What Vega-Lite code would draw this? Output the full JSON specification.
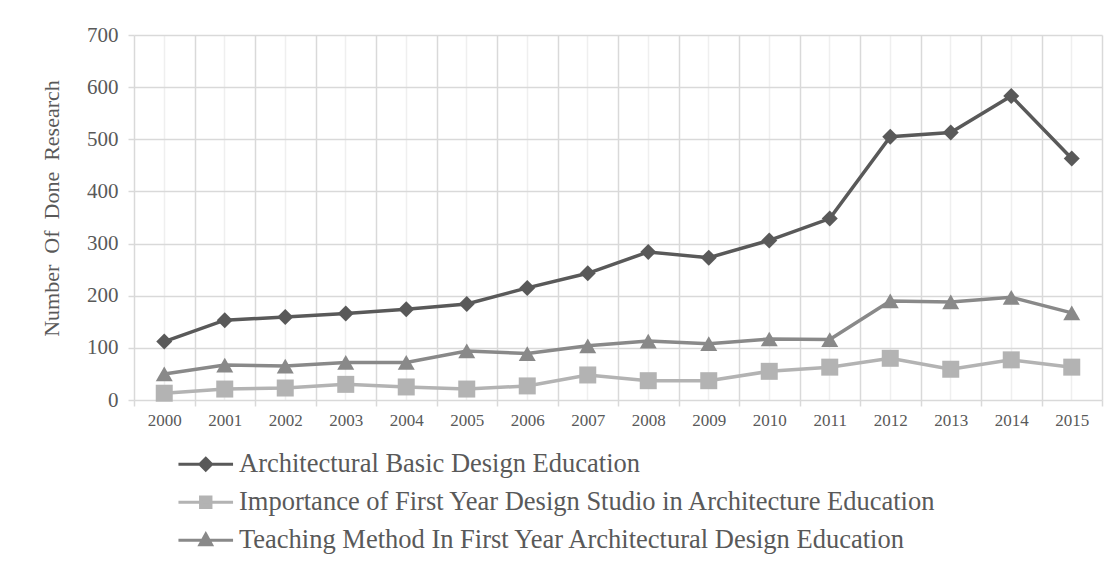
{
  "$schema": "https://vega.github.io/schema/vega-lite/v6.json",
  "width": 968,
  "height": 365,
  "autosize": {"type": "none"},
  "padding": {"left": 134, "top": 35, "right": 10, "bottom": 163},
  "background": "#ffffff",
  "config": {
    "view": {"stroke": null},
    "font": "Liberation Serif"
  },
  "data": {
    "values": [
      {"year": "2000", "series": "Architectural Basic Design Education", "value": 112},
      {"year": "2001", "series": "Architectural Basic Design Education", "value": 153},
      {"year": "2002", "series": "Architectural Basic Design Education", "value": 159},
      {"year": "2003", "series": "Architectural Basic Design Education", "value": 166},
      {"year": "2004", "series": "Architectural Basic Design Education", "value": 174},
      {"year": "2005", "series": "Architectural Basic Design Education", "value": 184},
      {"year": "2006", "series": "Architectural Basic Design Education", "value": 215},
      {"year": "2007", "series": "Architectural Basic Design Education", "value": 243},
      {"year": "2008", "series": "Architectural Basic Design Education", "value": 284},
      {"year": "2009", "series": "Architectural Basic Design Education", "value": 273},
      {"year": "2010", "series": "Architectural Basic Design Education", "value": 306},
      {"year": "2011", "series": "Architectural Basic Design Education", "value": 348},
      {"year": "2012", "series": "Architectural Basic Design Education", "value": 505},
      {"year": "2013", "series": "Architectural Basic Design Education", "value": 513},
      {"year": "2014", "series": "Architectural Basic Design Education", "value": 583},
      {"year": "2015", "series": "Architectural Basic Design Education", "value": 463},
      {"year": "2000", "series": "Importance of First Year Design Studio in Architecture Education", "value": 13},
      {"year": "2001", "series": "Importance of First Year Design Studio in Architecture Education", "value": 21},
      {"year": "2002", "series": "Importance of First Year Design Studio in Architecture Education", "value": 23},
      {"year": "2003", "series": "Importance of First Year Design Studio in Architecture Education", "value": 30},
      {"year": "2004", "series": "Importance of First Year Design Studio in Architecture Education", "value": 25},
      {"year": "2005", "series": "Importance of First Year Design Studio in Architecture Education", "value": 21},
      {"year": "2006", "series": "Importance of First Year Design Studio in Architecture Education", "value": 27},
      {"year": "2007", "series": "Importance of First Year Design Studio in Architecture Education", "value": 48},
      {"year": "2008", "series": "Importance of First Year Design Studio in Architecture Education", "value": 37},
      {"year": "2009", "series": "Importance of First Year Design Studio in Architecture Education", "value": 37},
      {"year": "2010", "series": "Importance of First Year Design Studio in Architecture Education", "value": 55},
      {"year": "2011", "series": "Importance of First Year Design Studio in Architecture Education", "value": 63},
      {"year": "2012", "series": "Importance of First Year Design Studio in Architecture Education", "value": 80},
      {"year": "2013", "series": "Importance of First Year Design Studio in Architecture Education", "value": 59},
      {"year": "2014", "series": "Importance of First Year Design Studio in Architecture Education", "value": 77},
      {"year": "2015", "series": "Importance of First Year Design Studio in Architecture Education", "value": 63},
      {"year": "2000", "series": "Teaching Method In First Year Architectural Design Education", "value": 50},
      {"year": "2001", "series": "Teaching Method In First Year Architectural Design Education", "value": 67},
      {"year": "2002", "series": "Teaching Method In First Year Architectural Design Education", "value": 65},
      {"year": "2003", "series": "Teaching Method In First Year Architectural Design Education", "value": 72},
      {"year": "2004", "series": "Teaching Method In First Year Architectural Design Education", "value": 72},
      {"year": "2005", "series": "Teaching Method In First Year Architectural Design Education", "value": 94},
      {"year": "2006", "series": "Teaching Method In First Year Architectural Design Education", "value": 89},
      {"year": "2007", "series": "Teaching Method In First Year Architectural Design Education", "value": 104},
      {"year": "2008", "series": "Teaching Method In First Year Architectural Design Education", "value": 113},
      {"year": "2009", "series": "Teaching Method In First Year Architectural Design Education", "value": 108},
      {"year": "2010", "series": "Teaching Method In First Year Architectural Design Education", "value": 117},
      {"year": "2011", "series": "Teaching Method In First Year Architectural Design Education", "value": 116},
      {"year": "2012", "series": "Teaching Method In First Year Architectural Design Education", "value": 190},
      {"year": "2013", "series": "Teaching Method In First Year Architectural Design Education", "value": 188},
      {"year": "2014", "series": "Teaching Method In First Year Architectural Design Education", "value": 197},
      {"year": "2015", "series": "Teaching Method In First Year Architectural Design Education", "value": 167}
    ]
  },
  "resolve": {"axis": {"x": "independent"}},
  "layer": [
    {
      "mark": {"type": "line", "strokeWidth": 3.5},
      "encoding": {
        "x": {
          "field": "year", "type": "ordinal",
          "scale": {"type": "band", "paddingInner": 0, "paddingOuter": 0},
          "axis": {
            "orient": "bottom", "title": null, "labelAngle": 0,
            "tickBand": "extent", "grid": true, "gridColor": "#d9d9d9", "gridWidth": 1.5,
            "ticks": true, "tickColor": "#d9d9d9", "tickSize": 6, "tickWidth": 1.5,
            "domain": false,
            "labelFont": "Liberation Serif", "labelFontSize": 17, "labelColor": "#595959", "labelPadding": 6
          }
        },
        "y": {
          "field": "value", "type": "quantitative",
          "scale": {"domain": [0, 700], "nice": false},
          "axis": {
            "values": [0, 100, 200, 300, 400, 500, 600, 700],
            "title": "Number\u00a0 Of\u00a0 Done\u00a0 Research",
            "titleFont": "Liberation Serif", "titleFontSize": 22, "titleFontWeight": "normal", "titleColor": "#595959", "titlePadding": 23, "titleY": 173,
            "grid": true, "gridColor": "#d9d9d9", "gridWidth": 1.5,
            "ticks": true, "tickColor": "#d9d9d9", "tickSize": 6, "tickWidth": 1.5,
            "domain": false,
            "labelFont": "Liberation Serif", "labelFontSize": 21, "labelColor": "#595959", "labelPadding": 10
          }
        },
        "color": {
          "field": "series", "type": "nominal",
          "scale": {
            "domain": ["Architectural Basic Design Education", "Importance of First Year Design Studio in Architecture Education", "Teaching Method In First Year Architectural Design Education"],
            "range": ["#595959", "#b3b3b3", "#898989"]
          },
          "legend": {
            "title": null, "orient": "none", "legendX": 58.5, "legendY": 416, "direction": "vertical",
            "padding": 0, "labelLimit": 0,
            "labelFont": "Liberation Serif", "labelFontSize": 26.5, "labelColor": "#595959",
            "symbolSize": 169, "labelOffset": 20, "rowPadding": 11,
            "encode": {
              "symbols": {
                "update": {
                  "shape": {"signal": "datum.value === 'Architectural Basic Design Education' ? 'M-4.2,0H4.2M0,-0.9L0.9,0L0,0.9L-0.9,0Z' : datum.value === 'Importance of First Year Design Studio in Architecture Education' ? 'M-4.2,0H4.2M-0.8,-0.8H0.8V0.8H-0.8Z' : 'M-4.2,0H4.2M0,-0.95L0.9,0.7H-0.9Z'"},
                  "fill": {"scale": "color", "field": "value"},
                  "strokeWidth": {"value": 3},
                  "opacity": {"value": 1}
                }
              }
            }
          }
        }
      }
    },
    {
      "transform": [{"filter": {"field": "series", "equal": "Architectural Basic Design Education"}}],
      "mark": {"type": "point", "filled": true, "opacity": 1, "size": 256, "shape": "diamond"},
      "encoding": {
        "x": {
          "field": "year", "type": "ordinal",
          "scale": {"type": "band", "paddingInner": 0, "paddingOuter": 0},
          "axis": {
            "orient": "bottom", "title": null, "labels": false, "ticks": false, "domain": false,
            "grid": true, "gridColor": "#efefef", "gridWidth": 1.5
          }
        },
        "y": {"field": "value", "type": "quantitative"},
        "color": {"field": "series", "type": "nominal", "legend": null}
      }
    },
    {
      "transform": [{"filter": {"field": "series", "equal": "Importance of First Year Design Studio in Architecture Education"}}],
      "mark": {"type": "point", "filled": true, "opacity": 1, "size": 289, "shape": "square"},
      "encoding": {
        "x": {"field": "year", "type": "ordinal", "axis": null},
        "y": {"field": "value", "type": "quantitative"},
        "color": {"field": "series", "type": "nominal", "legend": null}
      }
    },
    {
      "transform": [{"filter": {"field": "series", "equal": "Teaching Method In First Year Architectural Design Education"}}],
      "mark": {"type": "point", "filled": true, "opacity": 1, "size": 289, "shape": "triangle-up"},
      "encoding": {
        "x": {"field": "year", "type": "ordinal", "axis": null},
        "y": {"field": "value", "type": "quantitative"},
        "color": {"field": "series", "type": "nominal", "legend": null}
      }
    }
  ]
}
